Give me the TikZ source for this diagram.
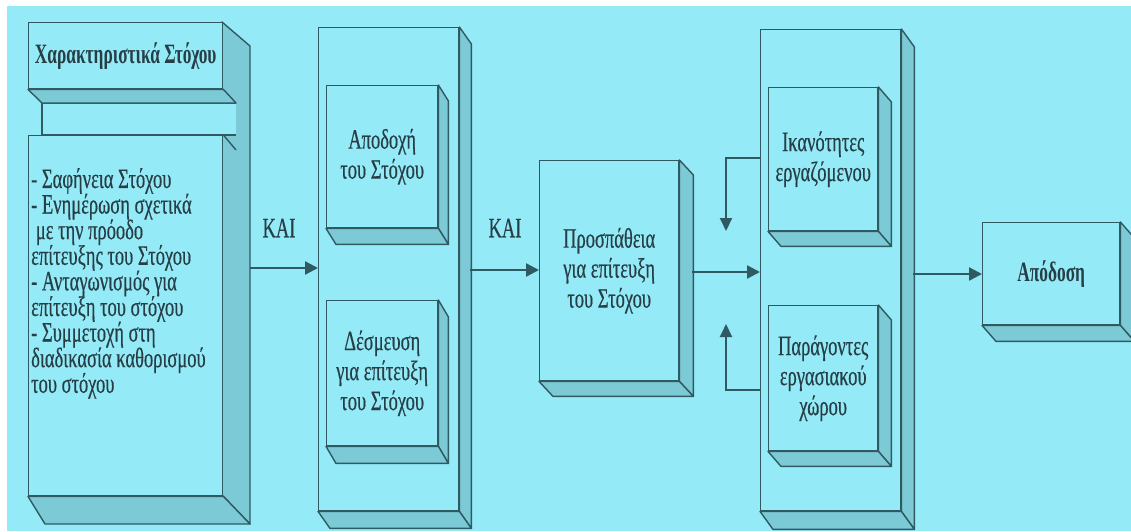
\documentclass[tikz,border=0pt]{standalone}
\usepackage{fontspec}
\newfontfamily\cond[FakeStretch=0.66,FakeBold=0.4]{Liberation Serif}
\newfontfamily\condb[FakeStretch=0.62]{Liberation Serif Bold}
\usetikzlibrary{calc,arrows.meta}
\definecolor{bg}{HTML}{95EAF7}
\definecolor{sidec}{HTML}{7CCAD5}
\definecolor{ln}{HTML}{2F5A62}
\definecolor{txt}{HTML}{263F46}
\newcommand\mytightlines{\lineskiplimit=-100pt\relax}
\tikzset{
  front/.style={draw=ln, fill=bg, line width=1.4pt, inner sep=0pt, anchor=north west,
    align=center, text=txt, font=\cond\fontsize{28}{30}\selectfont},
  face/.style={draw=ln, fill=sidec, line width=1.4pt, line join=round},
  lab/.style={text=txt, font=\cond\fontsize{28}{30}\selectfont, inner sep=0pt},
  conn/.style={draw=ln, line width=2.4pt, -{Triangle[length=13pt,width=13pt]}},
  fback/.style={draw=ln, line width=2pt, -{Triangle[length=13pt,width=12pt]}}
}
\newcommand\slab[8]{%
  \node[front, minimum width=#4pt, minimum height=#5pt] (#1) at (#2,#3) {#8};
  \path[face] (#1.north east) -- ++(#6,#7) -- ($(#1.south east)+(#6,#7)$) -- (#1.south east) -- cycle;
  \path[face] (#1.south west) -- (#1.south east) -- ++(#6,#7) -- ($(#1.south west)+(#6,#7)$) -- cycle;
}
\begin{document}
\begin{tikzpicture}[x=1pt,y=-1pt]
\useasboundingbox (0,0) rectangle (1131,531);
\fill[white] (0,0) rectangle (1131,531);
\fill[bg] (7,6) rectangle (1131,531);

% ---- box 1 (composite)
\path[face] (222,22) -- (250,46) -- (250,524) -- (222,495) -- cycle;
\path[draw=ln, fill=bg, line width=1.4pt] (236,103) -- (42,103) -- (42,135) -- (236,135);
\node[front, minimum width=194pt, minimum height=66pt, font=\condb\fontsize{28}{30}\selectfont] (goal) at (28,22) {Χαρακτηριστικά Στόχου};
\path[face] (goal.south west) -- (goal.south east) -- (236,103) -- (42,103) -- cycle;
\node[front, minimum width=194pt, minimum height=360pt] (traits) at (28,135) {};
\path[face] (traits.south west) -- (traits.south east) -- (250,524) -- (45,524) -- cycle;
\draw[ln, line width=1.4pt] (traits.north east) -- (236,150);
\node[lab, anchor=north west, align=left, font=\cond\fontsize{28}{25.6}\selectfont\mytightlines] (traitstext) at (31,168)
 {- Σαφήνεια Στόχου\\- Ενημέρωση σχετικά\\\ με την πρόοδο\\επίτευξης του Στόχου\\- Ανταγωνισμός για\\επίτευξη του στόχου\\- Συμμετοχή στη\\διαδικασία καθορισμού\\του στόχου};

% ---- box 2
\slab{mid}{318}{27}{140}{483}{12}{17}{}
\slab{accept}{326}{85}{111}{142}{10}{16}{Αποδοχή\\του Στόχου}
\slab{commit}{326}{300}{111}{145}{10}{17}{Δέσμευση\\για επίτευξη\\του Στόχου}

% ---- effort
\slab{effort}{539}{160}{139}{220}{14}{15}{Προσπάθεια\\για επίτευξη\\του Στόχου}

% ---- box 3
\slab{mod}{760}{29}{140}{481}{13}{18}{}
\slab{abil}{768}{87}{109}{143}{13}{15}{Ικανότητες\\εργαζόμενου}
\slab{work}{768}{305}{109}{145}{13}{15}{Παράγοντες\\εργασιακού\\χώρου}

% ---- performance
\slab{perf}{982}{222}{137}{102}{14}{16}{\condb Απόδοση}

% ---- connectors
\coordinate (s1) at (250,268);
\coordinate (s2) at (470,270);
\coordinate (s3) at (692,272);
\coordinate (s4) at (913,274);
\draw[conn] (s1) -- (s1 -| mid.west);
\draw[conn] (s2) -- (s2 -| effort.west);
\draw[conn] (s3) -- (s3 -| mod.west);
\draw[conn] (s4) -- (s4 -| perf.west);
\node[lab] (kai1) at (279,228) {ΚΑΙ};
\node[lab] (kai2) at (505,228) {ΚΑΙ};

\coordinate (f1) at (726,158);
\coordinate (f1e) at (726,231);
\coordinate (f2) at (726,390);
\coordinate (f2e) at (726,324);
\draw[fback] (f1 -| mod.west) -- (f1) -- (f1e);
\draw[fback] (f2 -| mod.west) -- (f2) -- (f2e);
\end{tikzpicture}
\end{document}
